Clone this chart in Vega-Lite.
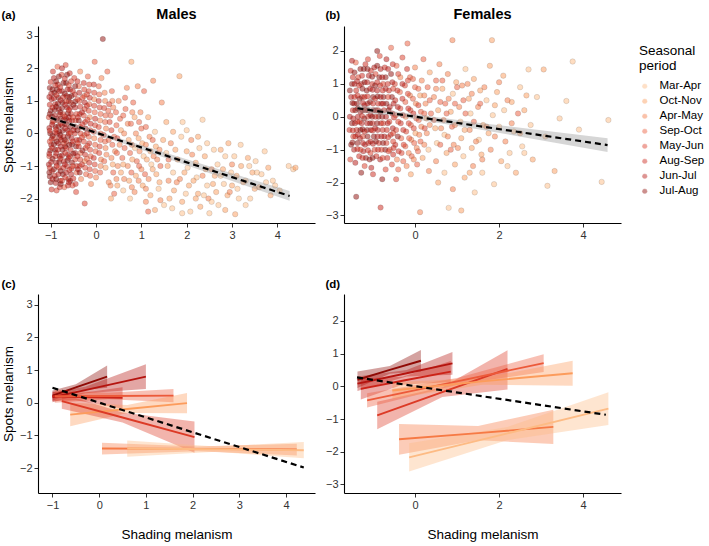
{
  "$schema": "https://vega.github.io/schema/vega-lite/v6.json",
  "background": "#ffffff",
  "padding": {"left": 1, "top": 6, "right": 2, "bottom": 2},
  "datasets": {
    "mpts": [
      {"s":"Mar-Apr","x":1.55,"y":-0.6},{"s":"Oct-Nov","x":1.58,"y":-1.0},{"s":"Apr-May","x":1.6,"y":-1.45},{"s":"Oct-Nov","x":1.62,"y":-2.0},
      {"s":"Oct-Nov","x":1.55,"y":0.35},{"s":"Apr-May","x":1.65,"y":-0.3},{"s":"Mar-Apr","x":1.7,"y":-1.2},{"s":"Oct-Nov","x":1.72,"y":-1.75},
      {"s":"Mar-Apr","x":1.68,"y":-2.3},{"s":"Oct-Nov","x":1.8,"y":-0.8},{"s":"Oct-Nov","x":1.84,"y":1.76},{"s":"Apr-May","x":1.85,"y":-1.4},
      {"s":"Mar-Apr","x":1.88,"y":-0.1},{"s":"Oct-Nov","x":1.9,"y":-2.1},{"s":"Mar-Apr","x":1.91,"y":0.35},{"s":"Oct-Nov","x":2.0,"y":-0.55},
      {"s":"Mar-Apr","x":2.02,"y":-1.05},{"s":"Oct-Nov","x":2.05,"y":-1.6},{"s":"Mar-Apr","x":2.08,"y":-2.4},{"s":"Apr-May","x":2.1,"y":-0.2},
      {"s":"Oct-Nov","x":2.2,"y":-0.9},{"s":"Mar-Apr","x":2.22,"y":-1.35},{"s":"Oct-Nov","x":2.25,"y":-1.85},{"s":"Mar-Apr","x":2.28,"y":-0.45},
      {"s":"Oct-Nov","x":2.3,"y":-2.25},{"s":"Mar-Apr","x":2.35,"y":0.42},{"s":"Oct-Nov","x":2.42,"y":-1.1},{"s":"Mar-Apr","x":2.45,"y":-1.6},
      {"s":"Apr-May","x":2.48,"y":-2.0},{"s":"Oct-Nov","x":2.4,"y":-0.7},{"s":"Mar-Apr","x":2.5,"y":-2.45},{"s":"Mar-Apr","x":2.6,"y":-0.5},
      {"s":"Oct-Nov","x":2.62,"y":-1.3},{"s":"Oct-Nov","x":2.65,"y":-1.8},{"s":"Mar-Apr","x":2.68,"y":-0.95},{"s":"Mar-Apr","x":2.7,"y":-2.2},
      {"s":"Oct-Nov","x":2.8,"y":-1.1},{"s":"Mar-Apr","x":2.82,"y":-1.55},{"s":"Mar-Apr","x":2.85,"y":-0.7},{"s":"Oct-Nov","x":2.9,"y":-1.9},
      {"s":"Oct-Nov","x":2.92,"y":-0.3},{"s":"Apr-May","x":2.95,"y":-1.8},{"s":"Mar-Apr","x":3.05,"y":-0.7},{"s":"Oct-Nov","x":3.07,"y":-2.48},
      {"s":"Oct-Nov","x":3.1,"y":-1.3},{"s":"Mar-Apr","x":3.12,"y":-1.7},{"s":"Mar-Apr","x":3.19,"y":-0.35},{"s":"Oct-Nov","x":3.2,"y":-1.0},
      {"s":"Mar-Apr","x":3.3,"y":-1.45},{"s":"Oct-Nov","x":3.35,"y":-0.75},{"s":"Mar-Apr","x":3.4,"y":-2.0},{"s":"Oct-Nov","x":3.45,"y":-1.2},
      {"s":"Mar-Apr","x":3.55,"y":-1.2},{"s":"Oct-Nov","x":3.6,"y":-1.65},{"s":"Mar-Apr","x":3.72,"y":-0.55},{"s":"Mar-Apr","x":3.75,"y":-1.5},
      {"s":"Oct-Nov","x":3.85,"y":-1.9},{"s":"Mar-Apr","x":3.95,"y":-1.6},{"s":"Mar-Apr","x":4.25,"y":-1.0},{"s":"Mar-Apr","x":4.35,"y":-1.1},
      {"s":"Oct-Nov","x":4.4,"y":-1.05},
      {"s":"Sep-Oct","x":1.6,"y":-0.8},{"s":"Oct-Nov","x":1.75,"y":-0.5},{"s":"Apr-May","x":1.78,"y":-1.5},{"s":"Oct-Nov","x":1.95,"y":-1.2},
      {"s":"Mar-Apr","x":1.98,"y":-1.85},{"s":"Apr-May","x":2.12,"y":-0.65},{"s":"Oct-Nov","x":2.15,"y":-1.45},{"s":"Apr-May","x":2.35,"y":-1.3},
      {"s":"Mar-Apr","x":2.38,"y":-1.9},{"s":"Apr-May","x":2.55,"y":-1.1},{"s":"Oct-Nov","x":2.58,"y":-1.55},{"s":"Mar-Apr","x":2.55,"y":-2.1},
      {"s":"Mar-Apr","x":2.75,"y":-1.3},{"s":"Oct-Nov","x":2.75,"y":-0.5},{"s":"Mar-Apr","x":2.98,"y":-1.2},{"s":"Oct-Nov","x":3.0,"y":-1.6},
      {"s":"Apr-May","x":3.0,"y":-0.95},{"s":"Mar-Apr","x":3.15,"y":-2.0},{"s":"Oct-Nov","x":3.25,"y":-1.5},{"s":"Mar-Apr","x":3.38,"y":-1.0},
      {"s":"Oct-Nov","x":3.5,"y":-1.7},{"s":"Mar-Apr","x":3.52,"y":-0.85},{"s":"Mar-Apr","x":3.65,"y":-1.25},{"s":"Oct-Nov","x":3.8,"y":-1.05},
      {"s":"Mar-Apr","x":3.9,"y":-1.45},{"s":"Mar-Apr","x":4.05,"y":-1.75},{"s":"Oct-Nov","x":2.2,"y":-2.0},{"s":"Mar-Apr","x":2.45,"y":-0.3},
      {"s":"Oct-Nov","x":1.7,"y":0.05},{"s":"Mar-Apr","x":2.0,"y":0.1},{"s":"Oct-Nov","x":2.25,"y":-0.1},{"s":"Mar-Apr","x":1.5,"y":-2.2},
      {"s":"Mar-Apr","x":1.9,"y":-2.45},{"s":"Oct-Nov","x":2.85,"y":-2.35},{"s":"Mar-Apr","x":3.3,"y":-2.2},
      {"s":"Sep-Oct","x":0.35,"y":1.3},{"s":"Apr-May","x":0.38,"y":0.8},{"s":"Sep-Oct","x":0.4,"y":-0.1},{"s":"Apr-May","x":0.42,"y":-0.55},
      {"s":"Oct-Nov","x":0.37,"y":-0.95},{"s":"Apr-May","x":0.45,"y":-1.4},{"s":"Sep-Oct","x":0.4,"y":-1.85},{"s":"Oct-Nov","x":0.33,"y":-2.0},
      {"s":"Apr-May","x":0.5,"y":1.0},{"s":"Sep-Oct","x":0.53,"y":0.45},{"s":"Oct-Nov","x":0.55,"y":0.1},{"s":"Apr-May","x":0.52,"y":-0.35},
      {"s":"Sep-Oct","x":0.58,"y":-0.75},{"s":"Oct-Nov","x":0.55,"y":-1.2},{"s":"Mar-Apr","x":0.6,"y":-1.75},{"s":"Sep-Oct","x":0.65,"y":0.75},
      {"s":"Apr-May","x":0.68,"y":1.4},{"s":"Apr-May","x":0.7,"y":0.3},{"s":"Oct-Nov","x":0.72,"y":-0.2},{"s":"Sep-Oct","x":0.75,"y":-0.6},
      {"s":"Apr-May","x":0.7,"y":-1.0},{"s":"Oct-Nov","x":0.73,"y":-1.45},{"s":"Oct-Nov","x":0.78,"y":2.2},{"s":"Mar-Apr","x":0.75,"y":-2.0},
      {"s":"Sep-Oct","x":0.82,"y":0.95},{"s":"Oct-Nov","x":0.85,"y":0.5},{"s":"Apr-May","x":0.88,"y":0.0},{"s":"Mar-Apr","x":0.86,"y":-0.45},
      {"s":"Sep-Oct","x":0.9,"y":-0.85},{"s":"Oct-Nov","x":0.88,"y":-1.3},{"s":"Apr-May","x":0.85,"y":-1.8},{"s":"Apr-May","x":0.92,"y":1.45},
      {"s":"Apr-May","x":0.98,"y":0.65},{"s":"Sep-Oct","x":1.0,"y":0.15},{"s":"Oct-Nov","x":1.02,"y":-0.3},{"s":"Mar-Apr","x":1.05,"y":-0.7},
      {"s":"Apr-May","x":1.0,"y":-1.1},{"s":"Oct-Nov","x":1.03,"y":-1.6},{"s":"Sep-Oct","x":1.06,"y":1.3},{"s":"Apr-May","x":1.1,"y":-2.1},
      {"s":"Oct-Nov","x":1.15,"y":0.5},{"s":"Apr-May","x":1.18,"y":-0.1},{"s":"Oct-Nov","x":1.2,"y":-0.55},{"s":"Mar-Apr","x":1.22,"y":-0.95},
      {"s":"Apr-May","x":1.16,"y":-1.4},{"s":"Oct-Nov","x":1.2,"y":-1.9},{"s":"Sep-Oct","x":1.15,"y":-2.4},{"s":"Apr-May","x":1.26,"y":1.62},
      {"s":"Mar-Apr","x":1.3,"y":0.05},{"s":"Oct-Nov","x":1.32,"y":-0.4},{"s":"Apr-May","x":1.35,"y":-0.8},{"s":"Oct-Nov","x":1.33,"y":-1.25},
      {"s":"Mar-Apr","x":1.38,"y":-1.7},{"s":"Oct-Nov","x":1.3,"y":-2.35},{"s":"Apr-May","x":1.45,"y":0.95},{"s":"Apr-May","x":1.42,"y":-2.05},
      {"s":"Oct-Nov","x":1.48,"y":-0.2},
      {"s":"Sep-Oct","x":0.32,"y":0.55},{"s":"May-Jun","x":0.34,"y":0.1},{"s":"Sep-Oct","x":0.36,"y":-0.35},{"s":"Apr-May","x":0.34,"y":-0.75},
      {"s":"Sep-Oct","x":0.38,"y":-1.2},{"s":"Apr-May","x":0.36,"y":1.0},{"s":"Apr-May","x":0.32,"y":-1.6},{"s":"Sep-Oct","x":0.45,"y":0.25},
      {"s":"May-Jun","x":0.47,"y":-0.15},{"s":"Sep-Oct","x":0.46,"y":-0.6},{"s":"Apr-May","x":0.48,"y":-1.0},{"s":"Sep-Oct","x":0.44,"y":0.65},
      {"s":"Oct-Nov","x":0.47,"y":-1.6},{"s":"Sep-Oct","x":0.6,"y":0.55},{"s":"Apr-May","x":0.62,"y":0.0},{"s":"Sep-Oct","x":0.63,"y":-0.45},
      {"s":"Oct-Nov","x":0.6,"y":-0.95},{"s":"Apr-May","x":0.62,"y":-1.4},{"s":"Sep-Oct","x":0.64,"y":1.1},{"s":"Sep-Oct","x":0.77,"y":0.3},
      {"s":"Apr-May","x":0.79,"y":-0.35},{"s":"Oct-Nov","x":0.8,"y":-0.8},{"s":"Sep-Oct","x":0.78,"y":-1.2},{"s":"Apr-May","x":0.8,"y":0.65},
      {"s":"Apr-May","x":0.79,"y":-1.65},{"s":"Sep-Oct","x":0.95,"y":0.35},{"s":"Oct-Nov","x":0.94,"y":-0.15},{"s":"Apr-May","x":0.96,"y":-0.55},
      {"s":"Sep-Oct","x":0.95,"y":-1.0},{"s":"Apr-May","x":0.94,"y":-1.45},{"s":"Sep-Oct","x":1.1,"y":0.2},{"s":"Apr-May","x":1.1,"y":-0.35},
      {"s":"Oct-Nov","x":1.12,"y":-0.8},{"s":"Sep-Oct","x":1.08,"y":-1.25},{"s":"Apr-May","x":1.1,"y":-1.7},{"s":"Sep-Oct","x":1.25,"y":-0.2},
      {"s":"Apr-May","x":1.27,"y":-0.7},{"s":"Oct-Nov","x":1.25,"y":-1.1},{"s":"Apr-May","x":1.4,"y":-0.5},{"s":"Sep-Oct","x":1.42,"y":-1.0},
      {"s":"Oct-Nov","x":1.4,"y":-1.5},
      {"s":"May-Jun","x":-0.48,"y":1.7},{"s":"Aug-Sep","x":-0.47,"y":1.2},{"s":"Jun-Jul","x":-0.46,"y":0.8},{"s":"May-Jun","x":-0.45,"y":0.4},
      {"s":"Aug-Sep","x":-0.47,"y":0.0},{"s":"Jul-Aug","x":-0.44,"y":-0.4},{"s":"May-Jun","x":-0.46,"y":-0.8},{"s":"Sep-Oct","x":-0.43,"y":-1.2},
      {"s":"Aug-Sep","x":-0.45,"y":-1.55},{"s":"Sep-Oct","x":-0.38,"y":1.45},{"s":"May-Jun","x":-0.37,"y":1.0},{"s":"Aug-Sep","x":-0.36,"y":0.6},
      {"s":"May-Jun","x":-0.35,"y":0.2},{"s":"Jun-Jul","x":-0.37,"y":-0.2},{"s":"Sep-Oct","x":-0.34,"y":-0.6},{"s":"May-Jun","x":-0.36,"y":-1.0},
      {"s":"Apr-May","x":-0.33,"y":-1.4},{"s":"Apr-May","x":-0.35,"y":1.9},{"s":"Aug-Sep","x":-0.27,"y":1.55},{"s":"Sep-Oct","x":-0.26,"y":1.15},
      {"s":"May-Jun","x":-0.25,"y":0.75},{"s":"Aug-Sep","x":-0.24,"y":0.35},{"s":"Sep-Oct","x":-0.26,"y":-0.05},{"s":"May-Jun","x":-0.23,"y":-0.45},
      {"s":"Apr-May","x":-0.25,"y":-0.85},{"s":"Sep-Oct","x":-0.22,"y":-1.25},{"s":"May-Jun","x":-0.25,"y":-2.15},{"s":"May-Jun","x":-0.16,"y":1.3},
      {"s":"Sep-Oct","x":-0.15,"y":0.9},{"s":"Apr-May","x":-0.14,"y":0.5},{"s":"May-Jun","x":-0.13,"y":0.1},{"s":"Aug-Sep","x":-0.15,"y":-0.3},
      {"s":"Sep-Oct","x":-0.12,"y":-0.7},{"s":"May-Jun","x":-0.14,"y":-1.1},{"s":"Apr-May","x":-0.11,"y":-1.55},{"s":"Sep-Oct","x":-0.18,"y":1.75},
      {"s":"Aug-Sep","x":-0.05,"y":1.5},{"s":"Apr-May","x":-0.04,"y":1.05},{"s":"Sep-Oct","x":-0.03,"y":0.65},{"s":"May-Jun","x":-0.02,"y":0.25},
      {"s":"Apr-May","x":-0.04,"y":-0.15},{"s":"Sep-Oct","x":-0.01,"y":-0.55},{"s":"May-Jun","x":-0.03,"y":-0.95},{"s":"Apr-May","x":0.0,"y":-1.35},
      {"s":"Sep-Oct","x":-0.03,"y":2.2},{"s":"Sep-Oct","x":0.07,"y":1.2},{"s":"May-Jun","x":0.08,"y":0.8},{"s":"Apr-May","x":0.09,"y":0.4},
      {"s":"Sep-Oct","x":0.1,"y":0.0},{"s":"May-Jun","x":0.08,"y":-0.4},{"s":"Apr-May","x":0.11,"y":-0.8},{"s":"Sep-Oct","x":0.09,"y":-1.2},
      {"s":"Jul-Aug","x":0.15,"y":2.9},{"s":"Apr-May","x":0.12,"y":1.7},{"s":"Apr-May","x":0.2,"y":1.0},{"s":"Sep-Oct","x":0.21,"y":0.55},
      {"s":"Apr-May","x":0.22,"y":0.15},{"s":"Sep-Oct","x":0.2,"y":-0.25},{"s":"Apr-May","x":0.23,"y":-0.65},{"s":"Oct-Nov","x":0.21,"y":-1.05},
      {"s":"Sep-Oct","x":0.25,"y":1.9},{"s":"Apr-May","x":0.28,"y":-1.5},{"s":"May-Jun","x":0.3,"y":0.35},
      {"s":"Jul-Aug","x":-0.46,"y":0.98},{"s":"May-Jun","x":-0.43,"y":0.6},{"s":"Jun-Jul","x":-0.46,"y":0.2},{"s":"Aug-Sep","x":-0.43,"y":-0.2},
      {"s":"Jun-Jul","x":-0.46,"y":-0.6},{"s":"Aug-Sep","x":-0.43,"y":-1.0},{"s":"Jul-Aug","x":-0.46,"y":1.45},{"s":"May-Jun","x":-0.44,"y":-1.8},
      {"s":"Aug-Sep","x":-0.35,"y":0.82},{"s":"Jul-Aug","x":-0.38,"y":0.4},{"s":"May-Jun","x":-0.34,"y":0.0},{"s":"Aug-Sep","x":-0.38,"y":-0.4},
      {"s":"May-Jun","x":-0.35,"y":-0.8},{"s":"Jun-Jul","x":-0.37,"y":1.25},{"s":"Jul-Aug","x":-0.36,"y":-1.2},{"s":"Jun-Jul","x":-0.25,"y":0.95},
      {"s":"May-Jun","x":-0.27,"y":0.55},{"s":"Jul-Aug","x":-0.23,"y":0.15},{"s":"May-Jun","x":-0.27,"y":-0.25},{"s":"Aug-Sep","x":-0.24,"y":-0.65},
      {"s":"May-Jun","x":-0.26,"y":1.35},{"s":"May-Jun","x":-0.24,"y":-1.05},{"s":"Aug-Sep","x":-0.14,"y":1.1},{"s":"May-Jun","x":-0.16,"y":0.7},
      {"s":"Aug-Sep","x":-0.12,"y":0.3},{"s":"Sep-Oct","x":-0.16,"y":-0.1},{"s":"May-Jun","x":-0.13,"y":-0.5},{"s":"Aug-Sep","x":-0.15,"y":-0.9},
      {"s":"Sep-Oct","x":-0.13,"y":-1.3},{"s":"May-Jun","x":-0.15,"y":1.5},{"s":"May-Jun","x":-0.04,"y":0.85},{"s":"Aug-Sep","x":-0.02,"y":0.45},
      {"s":"May-Jun","x":-0.05,"y":0.05},{"s":"Sep-Oct","x":-0.02,"y":-0.35},{"s":"Aug-Sep","x":-0.05,"y":-0.75},{"s":"Sep-Oct","x":-0.02,"y":-1.15},
      {"s":"May-Jun","x":-0.04,"y":1.25},{"s":"Aug-Sep","x":0.06,"y":1.0},{"s":"Sep-Oct","x":0.1,"y":0.6},{"s":"May-Jun","x":0.06,"y":0.2},
      {"s":"Sep-Oct","x":0.1,"y":-0.2},{"s":"May-Jun","x":0.07,"y":-0.6},{"s":"Apr-May","x":0.1,"y":-1.0},{"s":"Sep-Oct","x":0.06,"y":1.45},
      {"s":"May-Jun","x":0.18,"y":0.78},{"s":"Sep-Oct","x":0.2,"y":0.35},{"s":"May-Jun","x":0.17,"y":-0.05},{"s":"Apr-May","x":0.21,"y":-0.45},
      {"s":"Sep-Oct","x":0.18,"y":-0.85},{"s":"Apr-May","x":0.19,"y":1.25},{"s":"Sep-Oct","x":0.27,"y":0.7},{"s":"Sep-Oct","x":0.28,"y":-0.2},
      {"s":"May-Jun","x":0.29,"y":0.9},
      {"s":"Jul-Aug","x":-1.02,"y":1.4},{"s":"Jun-Jul","x":-0.98,"y":1.05},{"s":"Jul-Aug","x":-1.0,"y":0.7},{"s":"Aug-Sep","x":-0.96,"y":0.35},
      {"s":"Jul-Aug","x":-1.01,"y":0.0},{"s":"Jun-Jul","x":-0.99,"y":-0.35},{"s":"May-Jun","x":-1.03,"y":-0.7},{"s":"Aug-Sep","x":-0.97,"y":-1.15},
      {"s":"Jul-Aug","x":-1.0,"y":-1.5},{"s":"Jun-Jul","x":-0.93,"y":1.7},{"s":"Jul-Aug","x":-0.92,"y":1.25},{"s":"Aug-Sep","x":-0.9,"y":0.9},
      {"s":"Jun-Jul","x":-0.91,"y":0.55},{"s":"Jul-Aug","x":-0.89,"y":0.2},{"s":"May-Jun","x":-0.92,"y":-0.15},{"s":"Jul-Aug","x":-0.9,"y":-0.5},
      {"s":"Jun-Jul","x":-0.88,"y":-0.9},{"s":"Aug-Sep","x":-0.91,"y":-1.3},{"s":"May-Jun","x":-0.87,"y":-1.75},{"s":"Sep-Oct","x":-0.85,"y":2.05},
      {"s":"Aug-Sep","x":-0.84,"y":1.5},{"s":"Jul-Aug","x":-0.83,"y":1.1},{"s":"Jun-Jul","x":-0.82,"y":0.75},{"s":"Aug-Sep","x":-0.84,"y":0.4},
      {"s":"Jul-Aug","x":-0.81,"y":0.05},{"s":"Jun-Jul","x":-0.83,"y":-0.3},{"s":"Jul-Aug","x":-0.8,"y":-0.7},{"s":"May-Jun","x":-0.82,"y":-1.05},
      {"s":"Jun-Jul","x":-0.79,"y":-1.45},{"s":"May-Jun","x":-0.76,"y":1.8},{"s":"Jun-Jul","x":-0.75,"y":1.3},{"s":"Jul-Aug","x":-0.74,"y":0.95},
      {"s":"May-Jun","x":-0.73,"y":0.6},{"s":"Jun-Jul","x":-0.75,"y":0.25},{"s":"Aug-Sep","x":-0.72,"y":-0.1},{"s":"Jul-Aug","x":-0.74,"y":-0.5},
      {"s":"Aug-Sep","x":-0.71,"y":-0.85},{"s":"Jul-Aug","x":-0.73,"y":-1.25},{"s":"Sep-Oct","x":-0.7,"y":-1.65},{"s":"May-Jun","x":-0.67,"y":2.1},
      {"s":"Jul-Aug","x":-0.66,"y":1.55},{"s":"Aug-Sep","x":-0.65,"y":1.15},{"s":"Jun-Jul","x":-0.64,"y":0.8},{"s":"Jul-Aug","x":-0.66,"y":0.45},
      {"s":"Jun-Jul","x":-0.63,"y":0.1},{"s":"May-Jun","x":-0.65,"y":-0.25},{"s":"Jun-Jul","x":-0.62,"y":-0.65},{"s":"Aug-Sep","x":-0.64,"y":-1.0},
      {"s":"May-Jun","x":-0.61,"y":-1.4},{"s":"Aug-Sep","x":-0.58,"y":1.85},{"s":"Jun-Jul","x":-0.57,"y":1.35},{"s":"May-Jun","x":-0.56,"y":0.95},
      {"s":"Aug-Sep","x":-0.55,"y":0.6},{"s":"Jul-Aug","x":-0.57,"y":0.2},{"s":"Jun-Jul","x":-0.54,"y":-0.15},{"s":"Aug-Sep","x":-0.56,"y":-0.5},
      {"s":"Jul-Aug","x":-0.53,"y":-0.9},{"s":"Jun-Jul","x":-0.55,"y":-1.25},{"s":"May-Jun","x":-0.52,"y":-1.6},{"s":"Aug-Sep","x":-0.95,"y":1.9},
      {"s":"May-Jun","x":-1.04,"y":0.5},{"s":"Jun-Jul","x":-1.04,"y":-0.95},{"s":"Jun-Jul","x":-0.86,"y":0.0},{"s":"Jul-Aug","x":-0.78,"y":0.45},
      {"s":"Jul-Aug","x":-0.69,"y":0.3},{"s":"Jun-Jul","x":-0.6,"y":0.5},{"s":"Aug-Sep","x":-0.77,"y":-0.2},{"s":"Jul-Aug","x":-0.68,"y":-0.4},
      {"s":"Jul-Aug","x":-0.86,"y":1.35},{"s":"Jul-Aug","x":-0.6,"y":1.0},
      {"s":"Jun-Jul","x":-0.99,"y":1.22},{"s":"Aug-Sep","x":-1.02,"y":0.88},{"s":"Jul-Aug","x":-0.97,"y":0.52},{"s":"Jun-Jul","x":-1.03,"y":0.17},
      {"s":"Aug-Sep","x":-0.98,"y":-0.17},{"s":"Jul-Aug","x":-1.01,"y":-0.52},{"s":"Jun-Jul","x":-0.99,"y":-0.88},{"s":"Jul-Aug","x":-1.02,"y":-1.32},
      {"s":"Aug-Sep","x":-0.98,"y":-1.72},{"s":"Aug-Sep","x":-0.9,"y":1.48},{"s":"Jun-Jul","x":-0.93,"y":1.08},{"s":"Jul-Aug","x":-0.91,"y":0.72},
      {"s":"May-Jun","x":-0.94,"y":0.38},{"s":"Aug-Sep","x":-0.9,"y":0.03},{"s":"Jul-Aug","x":-0.93,"y":-0.33},{"s":"Aug-Sep","x":-0.9,"y":-0.7},
      {"s":"Jul-Aug","x":-0.93,"y":-1.1},{"s":"Jun-Jul","x":-0.89,"y":-1.52},{"s":"Jun-Jul","x":-0.81,"y":1.3},{"s":"Jul-Aug","x":-0.84,"y":0.92},
      {"s":"Aug-Sep","x":-0.8,"y":0.58},{"s":"Jul-Aug","x":-0.83,"y":0.22},{"s":"Jun-Jul","x":-0.8,"y":-0.13},{"s":"Aug-Sep","x":-0.84,"y":-0.5},
      {"s":"Jul-Aug","x":-0.81,"y":-0.88},{"s":"Jun-Jul","x":-0.83,"y":-1.25},{"s":"Aug-Sep","x":-0.8,"y":-1.65},{"s":"Jul-Aug","x":-0.82,"y":1.75},
      {"s":"Aug-Sep","x":-0.72,"y":1.12},{"s":"Jul-Aug","x":-0.75,"y":0.78},{"s":"Jun-Jul","x":-0.71,"y":0.42},{"s":"Jul-Aug","x":-0.74,"y":0.08},
      {"s":"May-Jun","x":-0.71,"y":-0.3},{"s":"Jun-Jul","x":-0.75,"y":-0.68},{"s":"Aug-Sep","x":-0.72,"y":-1.05},{"s":"May-Jun","x":-0.75,"y":-1.45},
      {"s":"Jul-Aug","x":-0.72,"y":1.55},{"s":"Jun-Jul","x":-0.75,"y":2.0},{"s":"Jun-Jul","x":-0.63,"y":1.35},{"s":"May-Jun","x":-0.66,"y":0.98},
      {"s":"Jul-Aug","x":-0.62,"y":0.62},{"s":"Aug-Sep","x":-0.65,"y":0.28},{"s":"Jul-Aug","x":-0.62,"y":-0.08},{"s":"Aug-Sep","x":-0.66,"y":-0.45},
      {"s":"Jul-Aug","x":-0.63,"y":-0.82},{"s":"Jun-Jul","x":-0.66,"y":-1.2},{"s":"Aug-Sep","x":-0.62,"y":-1.6},{"s":"Jul-Aug","x":-0.64,"y":1.8},
      {"s":"Jul-Aug","x":-0.54,"y":1.15},{"s":"Jun-Jul","x":-0.57,"y":0.78},{"s":"Aug-Sep","x":-0.53,"y":0.4},{"s":"May-Jun","x":-0.56,"y":0.02},
      {"s":"Jul-Aug","x":-0.53,"y":-0.33},{"s":"May-Jun","x":-0.57,"y":-0.7},{"s":"Aug-Sep","x":-0.54,"y":-1.08},{"s":"Jul-Aug","x":-0.57,"y":-1.45},
      {"s":"May-Jun","x":-0.55,"y":1.6},
      {"s":"Aug-Sep","x":-1.0,"y":1.58},{"s":"Jul-Aug","x":-0.96,"y":1.35},{"s":"Jun-Jul","x":-1.03,"y":1.12},{"s":"Aug-Sep","x":-0.96,"y":0.8},
      {"s":"Jul-Aug","x":-1.02,"y":0.6},{"s":"Jun-Jul","x":-0.97,"y":0.27},{"s":"Aug-Sep","x":-1.02,"y":0.08},{"s":"Jul-Aug","x":-0.96,"y":-0.08},
      {"s":"May-Jun","x":-1.02,"y":-0.25},{"s":"Aug-Sep","x":-0.97,"y":-0.45},{"s":"Jun-Jul","x":-1.03,"y":-0.62},{"s":"Jul-Aug","x":-0.96,"y":-0.78},
      {"s":"Aug-Sep","x":-1.02,"y":-1.05},{"s":"Jun-Jul","x":-0.96,"y":-1.4},{"s":"Jul-Aug","x":-1.03,"y":-1.2},{"s":"Jul-Aug","x":-0.88,"y":1.6},
      {"s":"Aug-Sep","x":-0.87,"y":1.18},{"s":"Jul-Aug","x":-0.88,"y":0.82},{"s":"Jun-Jul","x":-0.87,"y":0.45},{"s":"Aug-Sep","x":-0.88,"y":0.12},
      {"s":"Jul-Aug","x":-0.87,"y":-0.25},{"s":"Jun-Jul","x":-0.88,"y":-0.6},{"s":"Aug-Sep","x":-0.87,"y":-1.0},{"s":"Jul-Aug","x":-0.88,"y":-1.4},
      {"s":"Aug-Sep","x":-0.79,"y":1.42},{"s":"Jun-Jul","x":-0.78,"y":1.02},{"s":"Jul-Aug","x":-0.79,"y":0.65},{"s":"Aug-Sep","x":-0.78,"y":0.3},
      {"s":"Jul-Aug","x":-0.79,"y":-0.05},{"s":"Jun-Jul","x":-0.78,"y":-0.4},{"s":"Aug-Sep","x":-0.79,"y":-0.78},{"s":"Jul-Aug","x":-0.78,"y":-1.15},
      {"s":"Jul-Aug","x":-0.78,"y":-1.55},{"s":"Aug-Sep","x":-0.69,"y":1.68},{"s":"Jul-Aug","x":-0.69,"y":1.22},{"s":"Jun-Jul","x":-0.68,"y":0.88},
      {"s":"Aug-Sep","x":-0.69,"y":0.52},{"s":"Jun-Jul","x":-0.68,"y":0.15},{"s":"Jul-Aug","x":-0.69,"y":-0.2},{"s":"Aug-Sep","x":-0.68,"y":-0.6},
      {"s":"Jun-Jul","x":-0.69,"y":-0.95},{"s":"Aug-Sep","x":-0.68,"y":-1.35},{"s":"May-Jun","x":-0.6,"y":1.48},{"s":"Jul-Aug","x":-0.59,"y":1.12},
      {"s":"Aug-Sep","x":-0.6,"y":0.72},{"s":"Jun-Jul","x":-0.59,"y":0.38},{"s":"Aug-Sep","x":-0.6,"y":0.0},{"s":"Jul-Aug","x":-0.59,"y":-0.35},
      {"s":"Jun-Jul","x":-0.6,"y":-0.75},{"s":"Aug-Sep","x":-0.59,"y":-1.12},{"s":"Jun-Jul","x":-0.6,"y":-1.5},{"s":"Aug-Sep","x":-0.51,"y":1.3},
      {"s":"Jul-Aug","x":-0.5,"y":0.88},{"s":"May-Jun","x":-0.51,"y":0.5},{"s":"Jun-Jul","x":-0.5,"y":0.1},{"s":"Aug-Sep","x":-0.51,"y":-0.25},
      {"s":"Jul-Aug","x":-0.5,"y":-0.62},{"s":"May-Jun","x":-0.51,"y":-1.0},{"s":"Aug-Sep","x":-0.5,"y":-1.38},{"s":"May-Jun","x":-0.41,"y":1.05},
      {"s":"Aug-Sep","x":-0.4,"y":0.5},{"s":"Jul-Aug","x":-0.41,"y":0.1},{"s":"May-Jun","x":-0.4,"y":-0.3},{"s":"Aug-Sep","x":-0.41,"y":-0.7},
      {"s":"Jun-Jul","x":-0.4,"y":-1.1},{"s":"Aug-Sep","x":-0.41,"y":1.6},{"s":"Jun-Jul","x":-0.31,"y":0.65},{"s":"Aug-Sep","x":-0.3,"y":0.28},
      {"s":"May-Jun","x":-0.31,"y":-0.12},{"s":"Jul-Aug","x":-0.3,"y":-0.52},{"s":"Aug-Sep","x":-0.31,"y":-0.95},{"s":"May-Jun","x":-0.3,"y":1.1},
      {"s":"Aug-Sep","x":-0.2,"y":0.85},{"s":"May-Jun","x":-0.19,"y":0.42},{"s":"Aug-Sep","x":-0.2,"y":0.0},{"s":"May-Jun","x":-0.19,"y":-0.38},
      {"s":"Sep-Oct","x":-0.2,"y":-0.78},{"s":"May-Jun","x":-0.2,"y":1.2}
    ],
    "fpts": [
      {"s":"Apr-May","x":0.45,"y":0.6},{"s":"Oct-Nov","x":0.48,"y":-0.35},{"s":"Sep-Oct","x":0.5,"y":1.1},{"s":"Mar-Apr","x":0.52,"y":-0.8},
      {"s":"Oct-Nov","x":0.55,"y":0.2},{"s":"Apr-May","x":0.5,"y":-1.35},{"s":"Oct-Nov","x":0.55,"y":-2.0},{"s":"Apr-May","x":0.58,"y":1.6},
      {"s":"Oct-Nov","x":0.65,"y":0.85},{"s":"Apr-May","x":0.68,"y":-0.1},{"s":"Mar-Apr","x":0.7,"y":-0.55},{"s":"Sep-Oct","x":0.72,"y":0.4},
      {"s":"Oct-Nov","x":0.75,"y":-1.1},{"s":"Mar-Apr","x":0.7,"y":-1.7},{"s":"Mar-Apr","x":0.8,"y":-2.77},{"s":"Apr-May","x":0.78,"y":1.3},
      {"s":"Oct-Nov","x":0.85,"y":0.15},{"s":"Sep-Oct","x":0.88,"y":-0.3},{"s":"Apr-May","x":0.89,"y":2.33},{"s":"Mar-Apr","x":0.9,"y":0.7},
      {"s":"Apr-May","x":0.92,"y":-0.85},{"s":"Oct-Nov","x":0.95,"y":-1.45},{"s":"Apr-May","x":0.9,"y":-2.2},{"s":"Oct-Nov","x":0.98,"y":1.05},
      {"s":"Apr-May","x":1.05,"y":0.3},{"s":"Mar-Apr","x":1.08,"y":-0.15},{"s":"Oct-Nov","x":1.1,"y":-0.65},{"s":"Oct-Nov","x":1.1,"y":-2.85},
      {"s":"Apr-May","x":1.12,"y":0.95},{"s":"Mar-Apr","x":1.15,"y":-1.2},{"s":"Oct-Nov","x":1.18,"y":-1.85},{"s":"Mar-Apr","x":1.2,"y":1.45},
      {"s":"Oct-Nov","x":1.28,"y":0.55},{"s":"Apr-May","x":1.3,"y":-0.4},{"s":"Mar-Apr","x":1.32,"y":0.1},{"s":"Oct-Nov","x":1.35,"y":-0.95},
      {"s":"Apr-May","x":1.38,"y":-1.5},{"s":"Oct-Nov","x":1.4,"y":1.15},{"s":"Mar-Apr","x":1.42,"y":-2.3},{"s":"Apr-May","x":1.5,"y":0.3},
      {"s":"Mar-Apr","x":1.52,"y":-0.7},{"s":"Oct-Nov","x":1.55,"y":0.8},{"s":"Oct-Nov","x":1.58,"y":-1.15},{"s":"Mar-Apr","x":1.6,"y":-1.7},
      {"s":"Oct-Nov","x":1.62,"y":-0.25},{"s":"Mar-Apr","x":1.7,"y":0.5},{"s":"Oct-Nov","x":1.75,"y":-0.5},{"s":"Oct-Nov","x":1.78,"y":1.55},
      {"s":"Apr-May","x":1.8,"y":-1.0},{"s":"Oct-Nov","x":1.83,"y":2.33},{"s":"Mar-Apr","x":1.85,"y":0.05},{"s":"Mar-Apr","x":1.88,"y":-2.05},
      {"s":"Oct-Nov","x":1.95,"y":0.75},{"s":"Mar-Apr","x":2.0,"y":-0.3},{"s":"Oct-Nov","x":2.05,"y":-1.35},{"s":"Oct-Nov","x":2.1,"y":1.25},
      {"s":"Mar-Apr","x":2.12,"y":0.2},{"s":"Apr-May","x":2.15,"y":-0.75},{"s":"Mar-Apr","x":2.25,"y":-1.1},{"s":"Oct-Nov","x":2.3,"y":0.45},
      {"s":"Mar-Apr","x":2.35,"y":-0.45},{"s":"Oct-Nov","x":2.4,"y":-1.7},{"s":"Mar-Apr","x":2.5,"y":0.9},{"s":"Mar-Apr","x":2.55,"y":-0.9},
      {"s":"Oct-Nov","x":2.6,"y":0.2},{"s":"Mar-Apr","x":2.7,"y":1.44},{"s":"Mar-Apr","x":2.75,"y":-0.25},{"s":"Oct-Nov","x":2.8,"y":-1.3},
      {"s":"Mar-Apr","x":2.9,"y":0.6},{"s":"Oct-Nov","x":3.06,"y":1.44},{"s":"Mar-Apr","x":3.1,"y":-0.6},{"s":"Mar-Apr","x":3.15,"y":-2.1},
      {"s":"Oct-Nov","x":3.32,"y":-1.65},{"s":"Mar-Apr","x":3.44,"y":-0.05},{"s":"Mar-Apr","x":3.6,"y":0.48},{"s":"Mar-Apr","x":3.75,"y":1.68},
      {"s":"Mar-Apr","x":3.9,"y":-0.39},{"s":"Mar-Apr","x":4.44,"y":-1.98},{"s":"Mar-Apr","x":4.6,"y":-0.1},
      {"s":"Sep-Oct","x":0.45,"y":-0.1},{"s":"Apr-May","x":0.5,"y":0.85},{"s":"Sep-Oct","x":0.6,"y":0.45},{"s":"Apr-May","x":0.62,"y":-0.35},
      {"s":"Sep-Oct","x":0.6,"y":-0.85},{"s":"Sep-Oct","x":0.65,"y":1.1},{"s":"Sep-Oct","x":0.75,"y":0.1},{"s":"Apr-May","x":0.78,"y":-0.6},
      {"s":"Apr-May","x":0.8,"y":0.55},{"s":"Sep-Oct","x":0.85,"y":-1.0},{"s":"Sep-Oct","x":0.95,"y":0.4},{"s":"Apr-May","x":0.95,"y":-0.25},
      {"s":"Sep-Oct","x":1.0,"y":0.9},{"s":"Apr-May","x":1.02,"y":-0.95},{"s":"Sep-Oct","x":1.15,"y":0.5},{"s":"Oct-Nov","x":1.18,"y":-0.4},
      {"s":"Sep-Oct","x":1.2,"y":0.1},{"s":"Apr-May","x":1.25,"y":1.0},{"s":"Apr-May","x":1.35,"y":0.7},{"s":"Sep-Oct","x":1.4,"y":-0.15},
      {"s":"Apr-May","x":1.45,"y":-0.75},{"s":"Sep-Oct","x":1.55,"y":0.4},{"s":"Apr-May","x":1.65,"y":0.9},{"s":"Apr-May","x":1.7,"y":-0.3},
      {"s":"Oct-Nov","x":1.9,"y":0.35},{"s":"Apr-May","x":1.9,"y":-0.6},{"s":"Apr-May","x":2.0,"y":1.05},{"s":"Apr-May","x":2.2,"y":0.5},
      {"s":"Apr-May","x":2.3,"y":-0.2},{"s":"Sep-Oct","x":2.45,"y":0.1},{"s":"Oct-Nov","x":2.5,"y":-0.5},{"s":"Oct-Nov","x":2.65,"y":0.65},
      {"s":"Apr-May","x":1.6,"y":-1.3},{"s":"Mar-Apr","x":2.2,"y":-1.5},{"s":"Mar-Apr","x":2.6,"y":-1.1},{"s":"Oct-Nov","x":1.3,"y":-1.7},
      {"s":"Aug-Sep","x":-0.62,"y":0.8},{"s":"Jun-Jul","x":-0.6,"y":0.3},{"s":"May-Jun","x":-0.61,"y":-0.15},{"s":"Aug-Sep","x":-0.58,"y":-0.55},
      {"s":"Sep-Oct","x":-0.6,"y":-1.0},{"s":"Jul-Aug","x":-0.57,"y":1.3},{"s":"May-Jun","x":-0.55,"y":-1.45},{"s":"Sep-Oct","x":-0.57,"y":2.1},
      {"s":"May-Jun","x":-0.48,"y":1.0},{"s":"Aug-Sep","x":-0.47,"y":0.5},{"s":"Sep-Oct","x":-0.46,"y":0.05},{"s":"May-Jun","x":-0.45,"y":-0.4},
      {"s":"Aug-Sep","x":-0.47,"y":-0.85},{"s":"Sep-Oct","x":-0.44,"y":1.55},{"s":"Apr-May","x":-0.43,"y":-1.3},{"s":"May-Jun","x":-0.45,"y":-1.9},
      {"s":"Sep-Oct","x":-0.36,"y":0.75},{"s":"May-Jun","x":-0.35,"y":0.25},{"s":"Aug-Sep","x":-0.34,"y":-0.2},{"s":"Sep-Oct","x":-0.33,"y":-0.65},
      {"s":"Apr-May","x":-0.35,"y":1.2},{"s":"May-Jun","x":-0.32,"y":-1.1},{"s":"May-Jun","x":-0.3,"y":1.8},{"s":"May-Jun","x":-0.24,"y":0.95},
      {"s":"Sep-Oct","x":-0.23,"y":0.45},{"s":"Apr-May","x":-0.22,"y":0.0},{"s":"May-Jun","x":-0.21,"y":-0.45},{"s":"Sep-Oct","x":-0.23,"y":-0.9},
      {"s":"Sep-Oct","x":-0.18,"y":2.23},{"s":"Apr-May","x":-0.2,"y":-1.5},{"s":"Aug-Sep","x":-0.19,"y":1.45},{"s":"Apr-May","x":-0.12,"y":0.65},
      {"s":"May-Jun","x":-0.11,"y":0.2},{"s":"Sep-Oct","x":-0.1,"y":-0.25},{"s":"Apr-May","x":-0.09,"y":-0.7},{"s":"Sep-Oct","x":-0.12,"y":1.2},
      {"s":"Sep-Oct","x":-0.08,"y":-1.2},{"s":"Oct-Nov","x":-0.1,"y":-1.75},{"s":"Sep-Oct","x":0.0,"y":0.9},{"s":"Apr-May","x":0.02,"y":0.4},
      {"s":"Sep-Oct","x":0.03,"y":-0.05},{"s":"Oct-Nov","x":0.01,"y":-0.5},{"s":"Apr-May","x":0.04,"y":-0.95},{"s":"Apr-May","x":0.0,"y":1.5},
      {"s":"Sep-Oct","x":0.05,"y":-1.45},{"s":"Apr-May","x":0.12,"y":-2.9},{"s":"Oct-Nov","x":0.12,"y":0.65},{"s":"Sep-Oct","x":0.14,"y":0.15},
      {"s":"Apr-May","x":0.15,"y":-0.3},{"s":"Sep-Oct","x":0.13,"y":-0.75},{"s":"Apr-May","x":0.16,"y":1.1},{"s":"Oct-Nov","x":0.18,"y":-1.25},
      {"s":"Sep-Oct","x":0.2,"y":1.75},{"s":"Apr-May","x":0.25,"y":0.4},{"s":"Oct-Nov","x":0.27,"y":-0.05},{"s":"Apr-May","x":0.28,"y":-0.5},
      {"s":"Sep-Oct","x":0.3,"y":0.9},{"s":"Mar-Apr","x":0.32,"y":-1.0},{"s":"Oct-Nov","x":0.35,"y":1.35},{"s":"Apr-May","x":0.33,"y":-1.65},
      {"s":"Sep-Oct","x":0.38,"y":0.1},
      {"s":"Aug-Sep","x":-0.42,"y":0.8},{"s":"Jun-Jul","x":-0.41,"y":0.3},{"s":"May-Jun","x":-0.4,"y":-0.15},{"s":"Jul-Aug","x":-0.41,"y":-0.6},
      {"s":"May-Jun","x":-0.4,"y":1.3},{"s":"Aug-Sep","x":-0.39,"y":-1.05},{"s":"Sep-Oct","x":-0.4,"y":-1.6},{"s":"Aug-Sep","x":-0.3,"y":0.55},
      {"s":"May-Jun","x":-0.29,"y":0.05},{"s":"Aug-Sep","x":-0.28,"y":-0.4},{"s":"May-Jun","x":-0.27,"y":-0.85},{"s":"Jun-Jul","x":-0.3,"y":1.0},
      {"s":"Sep-Oct","x":-0.28,"y":-1.35},{"s":"May-Jun","x":-0.17,"y":0.7},{"s":"Aug-Sep","x":-0.16,"y":0.25},{"s":"May-Jun","x":-0.15,"y":-0.2},
      {"s":"Sep-Oct","x":-0.14,"y":-0.65},{"s":"May-Jun","x":-0.17,"y":1.1},{"s":"Apr-May","x":-0.15,"y":-1.1},{"s":"Sep-Oct","x":-0.05,"y":0.55},
      {"s":"Aug-Sep","x":-0.04,"y":0.1},{"s":"May-Jun","x":-0.03,"y":-0.35},{"s":"Sep-Oct","x":-0.02,"y":-0.8},{"s":"Sep-Oct","x":-0.05,"y":1.15},
      {"s":"Apr-May","x":-0.03,"y":-1.3},{"s":"Sep-Oct","x":0.08,"y":0.85},{"s":"May-Jun","x":0.08,"y":0.35},{"s":"Sep-Oct","x":0.09,"y":-0.1},
      {"s":"Apr-May","x":0.1,"y":-0.55},{"s":"Sep-Oct","x":0.07,"y":-1.05},{"s":"Sep-Oct","x":0.22,"y":0.1},{"s":"Apr-May","x":0.22,"y":0.65},
      {"s":"May-Jun","x":0.23,"y":-0.35},{"s":"Apr-May","x":0.22,"y":-0.85},{"s":"Sep-Oct","x":0.35,"y":0.5},{"s":"Apr-May","x":0.35,"y":-0.25},
      {"s":"Jul-Aug","x":-1.5,"y":1.0},{"s":"Jun-Jul","x":-1.52,"y":0.6},{"s":"Aug-Sep","x":-1.48,"y":0.2},{"s":"Jul-Aug","x":-1.5,"y":-0.2},
      {"s":"May-Jun","x":-1.47,"y":-0.6},{"s":"Aug-Sep","x":-1.53,"y":1.4},{"s":"Jun-Jul","x":-1.45,"y":-1.0},{"s":"Jul-Aug","x":-1.4,"y":-2.43},
      {"s":"Aug-Sep","x":-1.4,"y":0.8},{"s":"Jul-Aug","x":-1.38,"y":0.4},{"s":"Jun-Jul","x":-1.36,"y":0.0},{"s":"Aug-Sep","x":-1.39,"y":-0.4},
      {"s":"Jul-Aug","x":-1.37,"y":-0.8},{"s":"May-Jun","x":-1.35,"y":1.2},{"s":"Aug-Sep","x":-1.33,"y":-1.2},{"s":"Sep-Oct","x":-1.41,"y":1.65},
      {"s":"Jun-Jul","x":-1.28,"y":1.0},{"s":"Aug-Sep","x":-1.26,"y":0.6},{"s":"Jul-Aug","x":-1.25,"y":0.2},{"s":"Jun-Jul","x":-1.27,"y":-0.2},
      {"s":"May-Jun","x":-1.24,"y":-0.6},{"s":"Jul-Aug","x":-1.22,"y":1.45},{"s":"Jun-Jul","x":-1.23,"y":-1.05},{"s":"May-Jun","x":-1.2,"y":-1.5},
      {"s":"Jul-Aug","x":-1.15,"y":0.8},{"s":"Jun-Jul","x":-1.13,"y":0.4},{"s":"Aug-Sep","x":-1.12,"y":0.0},{"s":"Jul-Aug","x":-1.14,"y":-0.4},
      {"s":"Aug-Sep","x":-1.11,"y":-0.8},{"s":"Jun-Jul","x":-1.1,"y":1.25},{"s":"May-Jun","x":-1.12,"y":1.75},{"s":"Jul-Aug","x":-1.08,"y":-1.3},
      {"s":"Aug-Sep","x":-1.02,"y":1.0},{"s":"Jul-Aug","x":-1.0,"y":0.6},{"s":"Jun-Jul","x":-0.99,"y":0.2},{"s":"Aug-Sep","x":-1.01,"y":-0.2},
      {"s":"Jul-Aug","x":-0.98,"y":-0.6},{"s":"Jun-Jul","x":-0.97,"y":1.5},{"s":"May-Jun","x":-0.96,"y":-1.0},{"s":"Aug-Sep","x":-1.0,"y":-1.75},
      {"s":"Jun-Jul","x":-0.9,"y":0.8},{"s":"Aug-Sep","x":-0.88,"y":0.4},{"s":"Jul-Aug","x":-0.87,"y":0.0},{"s":"Jun-Jul","x":-0.89,"y":-0.4},
      {"s":"Aug-Sep","x":-0.86,"y":-0.8},{"s":"Jul-Aug","x":-0.85,"y":1.2},{"s":"May-Jun","x":-0.84,"y":1.85},{"s":"Jun-Jul","x":-0.83,"y":-1.3},
      {"s":"Aug-Sep","x":-0.82,"y":-2.76},{"s":"May-Jun","x":-0.76,"y":1.0},{"s":"Jul-Aug","x":-0.75,"y":0.6},{"s":"Aug-Sep","x":-0.74,"y":0.2},
      {"s":"May-Jun","x":-0.76,"y":-0.2},{"s":"Jun-Jul","x":-0.73,"y":-0.6},{"s":"Aug-Sep","x":-0.72,"y":1.5},{"s":"Jul-Aug","x":-0.71,"y":-1.0},
      {"s":"May-Jun","x":-0.7,"y":-1.6},{"s":"Jun-Jul","x":-1.45,"y":0.4},{"s":"Jul-Aug","x":-1.3,"y":-0.4},{"s":"Aug-Sep","x":-1.18,"y":0.2},
      {"s":"Jun-Jul","x":-1.05,"y":-0.4},{"s":"Jul-Aug","x":-0.93,"y":0.2},{"s":"Jun-Jul","x":-0.8,"y":0.4},{"s":"Aug-Sep","x":-1.2,"y":0.6},
      {"s":"Jul-Aug","x":-1.55,"y":0.8},{"s":"Jun-Jul","x":-1.55,"y":0.0},{"s":"Aug-Sep","x":-1.56,"y":-0.4},{"s":"Jul-Aug","x":-1.52,"y":-0.85},
      {"s":"Jun-Jul","x":-1.5,"y":1.7},{"s":"May-Jun","x":-1.54,"y":-1.3},{"s":"Jun-Jul","x":-1.44,"y":1.0},{"s":"Aug-Sep","x":-1.44,"y":0.6},
      {"s":"Jul-Aug","x":-1.42,"y":0.2},{"s":"Jun-Jul","x":-1.43,"y":-0.2},{"s":"Aug-Sep","x":-1.42,"y":-0.6},{"s":"Jul-Aug","x":-1.44,"y":1.35},
      {"s":"Jun-Jul","x":-1.42,"y":-1.4},{"s":"Aug-Sep","x":-1.33,"y":0.95},{"s":"Jul-Aug","x":-1.32,"y":0.55},{"s":"Jun-Jul","x":-1.3,"y":0.15},
      {"s":"May-Jun","x":-1.32,"y":-0.15},{"s":"Jun-Jul","x":-1.31,"y":-0.65},{"s":"Jul-Aug","x":-1.3,"y":1.45},{"s":"May-Jun","x":-1.3,"y":-1.0},
      {"s":"Jul-Aug","x":-1.28,"y":-1.7},{"s":"Jul-Aug","x":-1.2,"y":1.05},{"s":"Jun-Jul","x":-1.2,"y":0.35},{"s":"Jul-Aug","x":-1.21,"y":-0.05},
      {"s":"Aug-Sep","x":-1.2,"y":-0.45},{"s":"Jun-Jul","x":-1.19,"y":-0.85},{"s":"Aug-Sep","x":-1.18,"y":1.6},{"s":"Jul-Aug","x":-1.17,"y":-1.25},
      {"s":"Jun-Jul","x":-1.07,"y":0.85},{"s":"Jul-Aug","x":-1.07,"y":0.45},{"s":"Jun-Jul","x":-1.06,"y":0.05},{"s":"Jul-Aug","x":-1.07,"y":-0.2},
      {"s":"Jun-Jul","x":-1.06,"y":-0.75},{"s":"Aug-Sep","x":-1.05,"y":1.4},{"s":"May-Jun","x":-1.06,"y":-1.1},{"s":"Jun-Jul","x":-1.04,"y":-1.55},
      {"s":"Jul-Aug","x":-0.95,"y":0.95},{"s":"Aug-Sep","x":-0.95,"y":0.55},{"s":"Aug-Sep","x":-0.94,"y":0.0},{"s":"Jun-Jul","x":-0.95,"y":-0.35},
      {"s":"Jul-Aug","x":-0.93,"y":-0.75},{"s":"May-Jun","x":-0.94,"y":1.3},{"s":"Aug-Sep","x":-0.92,"y":-1.2},{"s":"Jul-Aug","x":-0.9,"y":2.0},
      {"s":"Aug-Sep","x":-0.83,"y":0.95},{"s":"Jun-Jul","x":-0.82,"y":0.6},{"s":"Jul-Aug","x":-0.82,"y":0.15},{"s":"Aug-Sep","x":-0.81,"y":-0.2},
      {"s":"Jun-Jul","x":-0.8,"y":-0.6},{"s":"Jun-Jul","x":-0.82,"y":1.45},{"s":"May-Jun","x":-0.8,"y":-1.0},{"s":"Jul-Aug","x":-0.78,"y":-1.9},
      {"s":"Jun-Jul","x":-0.7,"y":0.85},{"s":"Jul-Aug","x":-0.68,"y":0.4},{"s":"Jun-Jul","x":-0.69,"y":0.0},{"s":"Aug-Sep","x":-0.67,"y":-0.4},
      {"s":"May-Jun","x":-0.68,"y":-0.8},{"s":"Jul-Aug","x":-0.7,"y":1.2},{"s":"Aug-Sep","x":-0.66,"y":-1.25},{"s":"Jun-Jul","x":-0.68,"y":1.75},
      {"s":"Jul-Aug","x":-0.55,"y":0.6},{"s":"Aug-Sep","x":-0.54,"y":0.1},{"s":"Jun-Jul","x":-0.53,"y":-0.35},{"s":"May-Jun","x":-0.52,"y":-0.75},
      {"s":"Jun-Jul","x":-0.54,"y":1.05},{"s":"Aug-Sep","x":-0.52,"y":-1.15},{"s":"Aug-Sep","x":-0.53,"y":1.6},
      {"s":"Aug-Sep","x":-1.48,"y":1.2},{"s":"Jul-Aug","x":-1.49,"y":0.42},{"s":"Jun-Jul","x":-1.47,"y":-0.05},{"s":"Aug-Sep","x":-1.48,"y":-0.42},
      {"s":"Jul-Aug","x":-1.49,"y":-0.78},{"s":"Jun-Jul","x":-1.38,"y":1.08},{"s":"Aug-Sep","x":-1.37,"y":0.65},{"s":"Jul-Aug","x":-1.36,"y":0.25},
      {"s":"Aug-Sep","x":-1.37,"y":-0.15},{"s":"Jun-Jul","x":-1.36,"y":-0.55},{"s":"Aug-Sep","x":-1.37,"y":-0.98},{"s":"Aug-Sep","x":-1.26,"y":1.25},
      {"s":"Jul-Aug","x":-1.25,"y":0.85},{"s":"Jun-Jul","x":-1.24,"y":0.42},{"s":"Aug-Sep","x":-1.26,"y":0.02},{"s":"Jul-Aug","x":-1.25,"y":-0.38},
      {"s":"Jun-Jul","x":-1.24,"y":-0.8},{"s":"Aug-Sep","x":-1.25,"y":-1.25},{"s":"Jun-Jul","x":-1.14,"y":1.05},{"s":"Aug-Sep","x":-1.13,"y":0.62},
      {"s":"Jul-Aug","x":-1.12,"y":0.2},{"s":"Jun-Jul","x":-1.14,"y":-0.2},{"s":"Jul-Aug","x":-1.13,"y":-0.6},{"s":"Aug-Sep","x":-1.12,"y":-1.02},
      {"s":"Jul-Aug","x":-1.13,"y":1.45},{"s":"Jul-Aug","x":-1.02,"y":1.22},{"s":"Jun-Jul","x":-1.01,"y":0.82},{"s":"Aug-Sep","x":-1.0,"y":0.4},
      {"s":"Jul-Aug","x":-1.02,"y":0.0},{"s":"Aug-Sep","x":-1.01,"y":-0.42},{"s":"Jun-Jul","x":-1.0,"y":-0.82},{"s":"Jul-Aug","x":-1.01,"y":-1.25},
      {"s":"Aug-Sep","x":-0.9,"y":1.05},{"s":"Jul-Aug","x":-0.89,"y":0.62},{"s":"Aug-Sep","x":-0.88,"y":0.2},{"s":"Jul-Aug","x":-0.9,"y":-0.2},
      {"s":"Jun-Jul","x":-0.89,"y":-0.6},{"s":"Aug-Sep","x":-0.88,"y":-1.0},{"s":"Jul-Aug","x":-0.9,"y":1.55},{"s":"Jun-Jul","x":-0.78,"y":1.2},
      {"s":"Aug-Sep","x":-0.77,"y":0.8},{"s":"Jun-Jul","x":-0.76,"y":0.4},{"s":"Jul-Aug","x":-0.78,"y":0.0},{"s":"Aug-Sep","x":-0.77,"y":-0.4},
      {"s":"Jul-Aug","x":-0.76,"y":-0.8},{"s":"May-Jun","x":-0.77,"y":-1.25},{"s":"Aug-Sep","x":-0.65,"y":1.0},{"s":"May-Jun","x":-0.64,"y":0.6},
      {"s":"Jul-Aug","x":-0.63,"y":0.2},{"s":"Jun-Jul","x":-0.65,"y":-0.2},{"s":"Aug-Sep","x":-0.64,"y":-0.62},{"s":"May-Jun","x":-0.63,"y":-1.05},
      {"s":"Jun-Jul","x":-0.64,"y":1.45},{"s":"May-Jun","x":-0.52,"y":0.85},{"s":"Jun-Jul","x":-0.51,"y":0.4},{"s":"Aug-Sep","x":-0.5,"y":-0.02},
      {"s":"May-Jun","x":-0.52,"y":-0.5},{"s":"Aug-Sep","x":-0.51,"y":-0.95}
    ],
    "fits": [
      {"p":"a","x":-1.0,"y":0.48,"lo":0.4,"hi":0.56},{"p":"a","x":-0.3,"y":0.161,"lo":0.11,"hi":0.21},
      {"p":"a","x":1.5,"y":-0.658,"lo":-0.74,"hi":-0.58},{"p":"a","x":4.27,"y":-1.92,"lo":-2.07,"hi":-1.77},
      {"p":"b","x":-1.37,"y":0.26,"lo":0.14,"hi":0.38},{"p":"b","x":-0.6,"y":0.115,"lo":0.05,"hi":0.18},
      {"p":"b","x":1.5,"y":-0.28,"lo":-0.38,"hi":-0.18},{"p":"b","x":4.58,"y":-0.86,"lo":-1.07,"hi":-0.65},
      {"p":"c","x":-1.0,"y":0.46,"lo":0.46,"hi":0.46},{"p":"c","x":4.38,"y":-1.98,"lo":-1.98,"hi":-1.98},
      {"p":"d","x":-1.38,"y":0.27,"lo":0.27,"hi":0.27},{"p":"d","x":4.54,"y":-0.87,"lo":-0.87,"hi":-0.87}
    ],
    "seas": [
      {"p":"c","s":"Jul-Aug","x":-1.0,"y":0.22,"lo":0.06,"hi":0.38},{"p":"c","s":"Jul-Aug","x":-0.5,"y":0.47,"lo":0.37,"hi":0.57},{"p":"c","s":"Jul-Aug","x":0.17,"y":0.8,"lo":0.46,"hi":1.14},
      {"p":"c","s":"Jun-Jul","x":-1.0,"y":0.17,"lo":0.02,"hi":0.32},{"p":"c","s":"Jun-Jul","x":-0.3,"y":0.39,"lo":0.29,"hi":0.49},{"p":"c","s":"Jun-Jul","x":1.0,"y":0.8,"lo":0.42,"hi":1.18},
      {"p":"c","s":"Aug-Sep","x":-1.0,"y":0.2,"lo":0.05,"hi":0.35},{"p":"c","s":"Aug-Sep","x":-0.5,"y":0.18,"lo":0.08,"hi":0.28},{"p":"c","s":"Aug-Sep","x":0.5,"y":0.15,"lo":-0.18,"hi":0.48},
      {"p":"c","s":"Sep-Oct","x":-0.95,"y":0.2,"lo":0.0,"hi":0.4},{"p":"c","s":"Sep-Oct","x":0.2,"y":0.21,"lo":0.11,"hi":0.31},{"p":"c","s":"Sep-Oct","x":1.59,"y":0.22,"lo":0.02,"hi":0.42},
      {"p":"c","s":"Oct-Nov","x":-0.62,"y":-0.36,"lo":-0.72,"hi":0.0},{"p":"c","s":"Oct-Nov","x":0.6,"y":-0.19,"lo":-0.31,"hi":-0.07},{"p":"c","s":"Oct-Nov","x":1.88,"y":-0.01,"lo":-0.32,"hi":0.3},
      {"p":"c","s":"May-Jun","x":-0.8,"y":0.05,"lo":-0.18,"hi":0.28},{"p":"c","s":"May-Jun","x":0.5,"y":-0.45,"lo":-0.6,"hi":-0.3},{"p":"c","s":"May-Jun","x":2.04,"y":-1.05,"lo":-1.53,"hi":-0.57},
      {"p":"c","s":"Apr-May","x":0.06,"y":-1.4,"lo":-1.58,"hi":-1.22},{"p":"c","s":"Apr-May","x":2.1,"y":-1.41,"lo":-1.48,"hi":-1.34},{"p":"c","s":"Apr-May","x":4.23,"y":-1.43,"lo":-1.61,"hi":-1.25},
      {"p":"c","s":"Mar-Apr","x":0.6,"y":-1.4,"lo":-1.65,"hi":-1.15},{"p":"c","s":"Mar-Apr","x":2.5,"y":-1.42,"lo":-1.5,"hi":-1.34},{"p":"c","s":"Mar-Apr","x":4.38,"y":-1.45,"lo":-1.7,"hi":-1.2},
      {"p":"d","s":"Jul-Aug","x":-1.37,"y":0.2,"lo":-0.05,"hi":0.45},{"p":"d","s":"Jul-Aug","x":-0.6,"y":0.5,"lo":0.38,"hi":0.62},{"p":"d","s":"Jul-Aug","x":0.14,"y":0.78,"lo":0.45,"hi":1.11},
      {"p":"d","s":"Jun-Jul","x":-1.37,"y":0.08,"lo":-0.14,"hi":0.3},{"p":"d","s":"Jun-Jul","x":-0.2,"y":0.4,"lo":0.3,"hi":0.5},{"p":"d","s":"Jun-Jul","x":0.89,"y":0.7,"lo":0.35,"hi":1.05},
      {"p":"d","s":"Aug-Sep","x":-1.29,"y":-0.08,"lo":-0.4,"hi":0.24},{"p":"d","s":"Aug-Sep","x":-0.3,"y":0.17,"lo":0.05,"hi":0.29},{"p":"d","s":"Aug-Sep","x":0.85,"y":0.45,"lo":0.13,"hi":0.77},
      {"p":"d","s":"May-Jun","x":-0.9,"y":-0.89,"lo":-1.31,"hi":-0.47},{"p":"d","s":"May-Jun","x":0.65,"y":-0.18,"lo":-0.33,"hi":-0.03},{"p":"d","s":"May-Jun","x":2.2,"y":0.53,"lo":-0.1,"hi":1.1},
      {"p":"d","s":"Sep-Oct","x":-1.14,"y":-0.43,"lo":-0.65,"hi":-0.21},{"p":"d","s":"Sep-Oct","x":1.0,"y":0.15,"lo":0.05,"hi":0.25},{"p":"d","s":"Sep-Oct","x":3.06,"y":0.71,"lo":0.44,"hi":0.98},
      {"p":"d","s":"Oct-Nov","x":-0.54,"y":-0.13,"lo":-0.38,"hi":0.12},{"p":"d","s":"Oct-Nov","x":1.6,"y":0.15,"lo":0.05,"hi":0.25},{"p":"d","s":"Oct-Nov","x":3.75,"y":0.4,"lo":0.02,"hi":0.78},
      {"p":"d","s":"Apr-May","x":-0.38,"y":-1.62,"lo":-2.09,"hi":-1.15},{"p":"d","s":"Apr-May","x":1.5,"y":-1.43,"lo":-1.65,"hi":-1.21},{"p":"d","s":"Apr-May","x":3.29,"y":-1.24,"lo":-1.76,"hi":-0.72},
      {"p":"d","s":"Mar-Apr","x":-0.14,"y":-2.17,"lo":-2.6,"hi":-1.74},{"p":"d","s":"Mar-Apr","x":2.2,"y":-1.44,"lo":-1.64,"hi":-1.24},{"p":"d","s":"Mar-Apr","x":4.6,"y":-0.68,"lo":-1.18,"hi":-0.18}
    ]
  },
  "spacing": 38,
  "vconcat": [
    {
      "spacing": 10,
      "hconcat": [
        {
          "title": {"text": "(a)", "anchor": "start", "frame": "bounds", "fontSize": 11.5, "dy": 19},
          "vconcat": [
            {
              "width": 277,
              "height": 197,
              "title": {"text": "Males", "anchor": "middle"},
              "layer": [
                {
                  "data": {"name": "mpts"},
                  "mark": {"type": "circle", "size": 30, "opacity": 1, "fillOpacity": 0.5, "stroke": "#000000", "strokeOpacity": 0.22, "strokeWidth": 0.5},
                  "encoding": {
                    "x": {"field": "x", "type": "quantitative", "scale": {"domain": [-1.28, 4.83], "nice": false, "zero": false}, "axis": {"values": [-1, 0, 1, 2, 3, 4], "title": null}},
                    "y": {"field": "y", "type": "quantitative", "scale": {"domain": [-2.75, 3.3], "nice": false, "zero": false}, "axis": {"values": [-2, -1, 0, 1, 2, 3], "title": "Spots melanism"}},
                    "fill": {
                      "field": "s", "type": "nominal",
                      "scale": {"domain": ["Mar-Apr", "Oct-Nov", "Apr-May", "Sep-Oct", "May-Jun", "Aug-Sep", "Jun-Jul", "Jul-Aug"], "range": ["#fdbb84", "#fc9c5c", "#f67a45", "#ec5a3a", "#dc3a26", "#cc2318", "#b5140f", "#8f0a05"]},
                      "legend": {"title": ["Seasonal", "period"], "orient": "none", "legendX": 601, "legendY": 18, "symbolType": "circle", "symbolSize": 22, "symbolOpacity": 0.45, "symbolStrokeColor": "#000000", "symbolStrokeWidth": 0.4}
                    }
                  }
                },
                {
                  "data": {"name": "fits"},
                  "transform": [{"filter": "datum.p == 'a'"}],
                  "mark": {"type": "area", "color": "#999999", "opacity": 0.4},
                  "encoding": {
                    "x": {"field": "x", "type": "quantitative", "scale": {"domain": [-1.28, 4.83], "nice": false, "zero": false}, "axis": {"values": [-1, 0, 1, 2, 3, 4], "title": null}},
                    "y": {"field": "lo", "type": "quantitative", "scale": {"domain": [-2.75, 3.3], "nice": false, "zero": false}, "axis": {"values": [-2, -1, 0, 1, 2, 3], "title": "Spots melanism"}},
                    "y2": {"field": "hi"}
                  }
                },
                {
                  "data": {"name": "fits"},
                  "transform": [{"filter": "datum.p == 'a'"}],
                  "mark": {"type": "line", "color": "#000000", "strokeWidth": 2.2, "strokeDash": [6, 4]},
                  "encoding": {
                    "x": {"field": "x", "type": "quantitative", "scale": {"domain": [-1.28, 4.83], "nice": false, "zero": false}, "axis": {"values": [-1, 0, 1, 2, 3, 4], "title": null}},
                    "y": {"field": "y", "type": "quantitative", "scale": {"domain": [-2.75, 3.3], "nice": false, "zero": false}, "axis": {"values": [-2, -1, 0, 1, 2, 3], "title": "Spots melanism"}}
                  }
                }
              ]
            }
          ]
        },
        {
          "title": {"text": "(b)", "anchor": "start", "frame": "bounds", "fontSize": 11.5, "dy": 19},
          "vconcat": [
            {
              "width": 277,
              "height": 197,
              "title": {"text": "Females", "anchor": "middle"},
              "layer": [
                {
                  "data": {"name": "fpts"},
                  "mark": {"type": "circle", "size": 30, "opacity": 1, "fillOpacity": 0.5, "stroke": "#000000", "strokeOpacity": 0.22, "strokeWidth": 0.5},
                  "encoding": {
                    "x": {"field": "x", "type": "quantitative", "scale": {"domain": [-1.69, 4.9], "nice": false, "zero": false}, "axis": {"values": [0, 2, 4], "title": null}},
                    "y": {"field": "y", "type": "quantitative", "scale": {"domain": [-3.23, 2.76], "nice": false, "zero": false}, "axis": {"values": [-3, -2, -1, 0, 1, 2], "title": null}},
                    "fill": {
                      "field": "s", "type": "nominal",
                      "scale": {"domain": ["Mar-Apr", "Oct-Nov", "Apr-May", "Sep-Oct", "May-Jun", "Aug-Sep", "Jun-Jul", "Jul-Aug"], "range": ["#fdbb84", "#fc9c5c", "#f67a45", "#ec5a3a", "#dc3a26", "#cc2318", "#b5140f", "#8f0a05"]},
                      "legend": {"title": ["Seasonal", "period"], "orient": "none", "legendX": 601, "legendY": 18, "symbolType": "circle", "symbolSize": 22, "symbolOpacity": 0.45, "symbolStrokeColor": "#000000", "symbolStrokeWidth": 0.4}
                    }
                  }
                },
                {
                  "data": {"name": "fits"},
                  "transform": [{"filter": "datum.p == 'b'"}],
                  "mark": {"type": "area", "color": "#999999", "opacity": 0.4},
                  "encoding": {
                    "x": {"field": "x", "type": "quantitative", "scale": {"domain": [-1.69, 4.9], "nice": false, "zero": false}, "axis": {"values": [0, 2, 4], "title": null}},
                    "y": {"field": "lo", "type": "quantitative", "scale": {"domain": [-3.23, 2.76], "nice": false, "zero": false}, "axis": {"values": [-3, -2, -1, 0, 1, 2], "title": null}},
                    "y2": {"field": "hi"}
                  }
                },
                {
                  "data": {"name": "fits"},
                  "transform": [{"filter": "datum.p == 'b'"}],
                  "mark": {"type": "line", "color": "#000000", "strokeWidth": 2.2, "strokeDash": [6, 4]},
                  "encoding": {
                    "x": {"field": "x", "type": "quantitative", "scale": {"domain": [-1.69, 4.9], "nice": false, "zero": false}, "axis": {"values": [0, 2, 4], "title": null}},
                    "y": {"field": "y", "type": "quantitative", "scale": {"domain": [-3.23, 2.76], "nice": false, "zero": false}, "axis": {"values": [-3, -2, -1, 0, 1, 2], "title": null}}
                  }
                }
              ]
            }
          ]
        }
      ],
      "resolve": {"scale": {"x": "independent", "y": "independent", "fill": "shared"}}
    },
    {
      "spacing": 10,
      "hconcat": [
        {
          "title": {"text": "(c)", "anchor": "start", "frame": "bounds", "fontSize": 11.5},
          "width": 277,
          "height": 199,
          "layer": [
            {
              "data": {"name": "seas"},
              "transform": [{"filter": "datum.p == 'c'"}],
              "mark": {"type": "area", "opacity": 0.38},
              "encoding": {
                "x": {"field": "x", "type": "quantitative", "scale": {"domain": [-1.31, 4.62], "nice": false, "zero": false}, "axis": {"values": [-1, 0, 1, 2, 3, 4], "title": "Shading melanism", "titlePadding": 17}},
                "y": {"field": "lo", "type": "quantitative", "scale": {"domain": [-2.76, 3.33], "nice": false, "zero": false}, "axis": {"values": [-2, -1, 0, 1, 2, 3], "title": "Spots melanism"}},
                "y2": {"field": "hi"},
                "color": {
                  "field": "s", "type": "nominal",
                  "scale": {"domain": ["Mar-Apr", "Oct-Nov", "Apr-May", "Sep-Oct", "May-Jun", "Aug-Sep", "Jun-Jul", "Jul-Aug"], "range": ["#fdbb84", "#fc9c5c", "#f67a45", "#ec5a3a", "#dc3a26", "#cc2318", "#b5140f", "#8f0a05"]},
                  "legend": null
                }
              }
            },
            {
              "data": {"name": "seas"},
              "transform": [{"filter": "datum.p == 'c'"}],
              "mark": {"type": "line", "strokeWidth": 1.9},
              "encoding": {
                "x": {"field": "x", "type": "quantitative", "scale": {"domain": [-1.31, 4.62], "nice": false, "zero": false}, "axis": {"values": [-1, 0, 1, 2, 3, 4], "title": "Shading melanism", "titlePadding": 17}},
                "y": {"field": "y", "type": "quantitative", "scale": {"domain": [-2.76, 3.33], "nice": false, "zero": false}, "axis": {"values": [-2, -1, 0, 1, 2, 3], "title": "Spots melanism"}},
                "color": {
                  "field": "s", "type": "nominal",
                  "scale": {"domain": ["Mar-Apr", "Oct-Nov", "Apr-May", "Sep-Oct", "May-Jun", "Aug-Sep", "Jun-Jul", "Jul-Aug"], "range": ["#fdbb84", "#fc9c5c", "#f67a45", "#ec5a3a", "#dc3a26", "#cc2318", "#b5140f", "#8f0a05"]},
                  "legend": null
                }
              }
            },
            {
              "data": {"name": "fits"},
              "transform": [{"filter": "datum.p == 'c'"}],
              "mark": {"type": "line", "color": "#000000", "strokeWidth": 2.2, "strokeDash": [6, 4]},
              "encoding": {
                "x": {"field": "x", "type": "quantitative", "scale": {"domain": [-1.31, 4.62], "nice": false, "zero": false}, "axis": {"values": [-1, 0, 1, 2, 3, 4], "title": "Shading melanism", "titlePadding": 17}},
                "y": {"field": "y", "type": "quantitative", "scale": {"domain": [-2.76, 3.33], "nice": false, "zero": false}, "axis": {"values": [-2, -1, 0, 1, 2, 3], "title": "Spots melanism"}}
              }
            }
          ]
        },
        {
          "title": {"text": "(d)", "anchor": "start", "frame": "bounds", "fontSize": 11.5},
          "width": 277,
          "height": 199,
          "layer": [
            {
              "data": {"name": "seas"},
              "transform": [{"filter": "datum.p == 'd'"}],
              "mark": {"type": "area", "opacity": 0.38},
              "encoding": {
                "x": {"field": "x", "type": "quantitative", "scale": {"domain": [-1.69, 4.9], "nice": false, "zero": false}, "axis": {"values": [0, 2, 4], "title": "Shading melanism", "titlePadding": 17}},
                "y": {"field": "lo", "type": "quantitative", "scale": {"domain": [-3.26, 2.82], "nice": false, "zero": false}, "axis": {"values": [-3, -2, -1, 0, 1, 2], "title": null}},
                "y2": {"field": "hi"},
                "color": {
                  "field": "s", "type": "nominal",
                  "scale": {"domain": ["Mar-Apr", "Oct-Nov", "Apr-May", "Sep-Oct", "May-Jun", "Aug-Sep", "Jun-Jul", "Jul-Aug"], "range": ["#fdbb84", "#fc9c5c", "#f67a45", "#ec5a3a", "#dc3a26", "#cc2318", "#b5140f", "#8f0a05"]},
                  "legend": null
                }
              }
            },
            {
              "data": {"name": "seas"},
              "transform": [{"filter": "datum.p == 'd'"}],
              "mark": {"type": "line", "strokeWidth": 1.9},
              "encoding": {
                "x": {"field": "x", "type": "quantitative", "scale": {"domain": [-1.69, 4.9], "nice": false, "zero": false}, "axis": {"values": [0, 2, 4], "title": "Shading melanism", "titlePadding": 17}},
                "y": {"field": "y", "type": "quantitative", "scale": {"domain": [-3.26, 2.82], "nice": false, "zero": false}, "axis": {"values": [-3, -2, -1, 0, 1, 2], "title": null}},
                "color": {
                  "field": "s", "type": "nominal",
                  "scale": {"domain": ["Mar-Apr", "Oct-Nov", "Apr-May", "Sep-Oct", "May-Jun", "Aug-Sep", "Jun-Jul", "Jul-Aug"], "range": ["#fdbb84", "#fc9c5c", "#f67a45", "#ec5a3a", "#dc3a26", "#cc2318", "#b5140f", "#8f0a05"]},
                  "legend": null
                }
              }
            },
            {
              "data": {"name": "fits"},
              "transform": [{"filter": "datum.p == 'd'"}],
              "mark": {"type": "line", "color": "#000000", "strokeWidth": 2.2, "strokeDash": [6, 4]},
              "encoding": {
                "x": {"field": "x", "type": "quantitative", "scale": {"domain": [-1.69, 4.9], "nice": false, "zero": false}, "axis": {"values": [0, 2, 4], "title": "Shading melanism", "titlePadding": 17}},
                "y": {"field": "y", "type": "quantitative", "scale": {"domain": [-3.26, 2.82], "nice": false, "zero": false}, "axis": {"values": [-3, -2, -1, 0, 1, 2], "title": null}}
              }
            }
          ]
        }
      ],
      "resolve": {"scale": {"x": "independent", "y": "independent", "color": "shared"}}
    }
  ],
  "resolve": {"scale": {"x": "independent", "y": "independent", "fill": "shared", "color": "shared"}},
  "config": {
    "font": "Liberation Sans",
    "view": {"stroke": null},
    "axis": {
      "grid": false,
      "domainColor": "#000000",
      "domainWidth": 1.1,
      "tickColor": "#333333",
      "tickSize": 4,
      "tickWidth": 1,
      "labelColor": "#333333",
      "labelFont": "Liberation Sans",
      "labelFontSize": 11,
      "labelPadding": 2,
      "titleFont": "Liberation Sans",
      "titleFontSize": 13.5,
      "titleFontWeight": "normal",
      "titleColor": "#000000"
    },
    "title": {"font": "Liberation Sans", "fontSize": 14.5, "fontWeight": "bold", "color": "#000000", "offset": 4},
    "legend": {
      "titleFont": "Liberation Sans",
      "titleFontSize": 13.5,
      "titleFontWeight": "normal",
      "titleColor": "#000000",
      "titleLineHeight": 15,
      "titlePadding": 8,
      "labelFont": "Liberation Sans",
      "labelFontSize": 11.5,
      "labelColor": "#000000",
      "rowPadding": 2,
      "labelOffset": 9
    }
  }
}
